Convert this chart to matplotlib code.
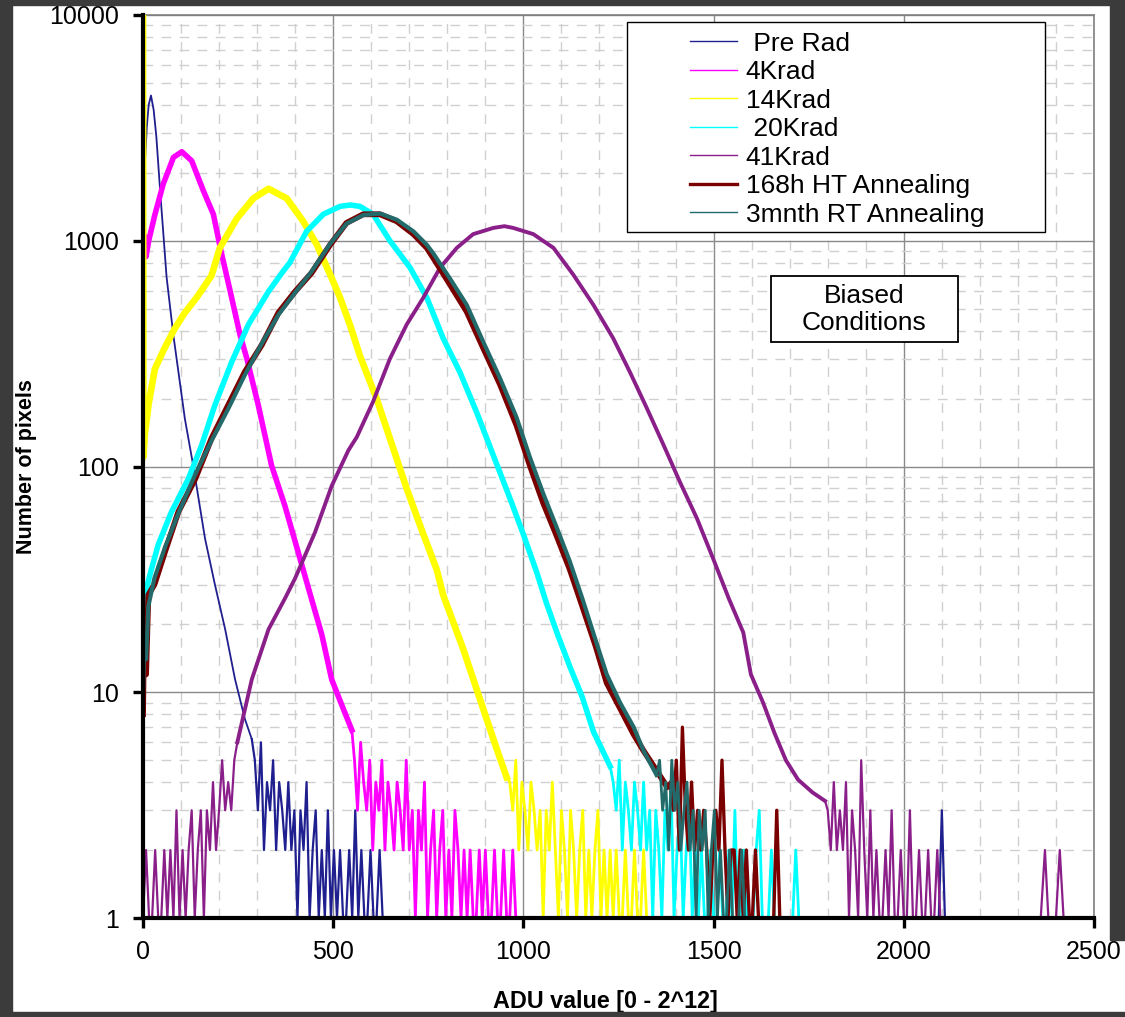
import matplotlib
matplotlib.use("Agg")
import matplotlib.pyplot as plt
from matplotlib.patches import Rectangle
from matplotlib.ticker import FixedLocator, LogLocator, NullFormatter, FixedFormatter

plt.rcParams['font.family'] = ['Liberation Sans', 'DejaVu Sans']

# ---------------- data ----------------
series_labels = [" Pre Rad", "4Krad", "14Krad", " 20Krad", "41Krad",
                 "168h HT Annealing", "3mnth RT Annealing"]
series_colors = ["#1f1f8f", "#ff00ff", "#ffff00", "#00ffff", "#8a1f8a",
                 "#7a0000", "#236b6b"]

x_ticks = [0, 500, 1000, 1500, 2000, 2500]
y_ticks = [1, 10, 100, 1000, 10000]
y_tick_labels = ["1", "10", "100", "1000", "10000"]

# Pre Rad
pre_body_x = [0, 5, 10, 15, 21, 28, 35, 45, 62, 80, 110, 132, 163, 189, 216, 242, 268, 286]
pre_body_y = [1300, 2200, 3200, 4000, 4400, 3800, 2900, 1670, 690, 380, 163, 101, 48, 30, 19, 11.4, 7.6, 6.2]
pre_tail_x = [294, 302, 310, 318, 326, 334, 342, 350, 358, 366, 374, 382, 390, 398, 406, 414, 422, 430,
              438, 446, 454, 462, 470, 478, 486, 494, 502, 510, 518, 526, 534, 542, 550, 558, 566, 574,
              582, 590, 598, 606, 614, 622, 630, 638, 646, 2092, 2100, 2108]
pre_tail_y = [5, 3, 6, 2, 4, 3, 5, 2, 4, 3, 2, 4, 2, 3, 1, 3, 2, 4,
              1, 2, 3, 1, 2, 1, 3, 1, 2, 1, 2, 1, 1, 2, 1, 3, 1, 2,
              1, 1, 2, 1, 1, 2, 1, 1, 1, 1, 3, 1]

# 4Krad
k4_body_x = [0, 4, 8, 15, 31, 53, 80, 102, 128, 159, 185, 205, 229, 255, 273, 303, 338, 373, 408, 443, 470, 496, 520, 549]
k4_body_y = [800, 1050, 850, 1000, 1300, 1780, 2340, 2480, 2260, 1660, 1310, 900, 600, 383, 301, 187, 101, 67, 41.7, 25.9, 18, 11.4, 9, 6.8]
k4_tail_x = [556, 564, 572, 580, 588, 596, 604, 612, 620, 628, 636, 644, 652, 660, 668, 676, 684, 692,
             700, 708, 716, 724, 732, 740, 748, 756, 764, 772, 780, 788, 796, 804, 812, 820, 828, 836,
             844, 852, 860, 868, 876, 884, 892, 900, 908, 916, 924, 932, 940, 948, 956, 964, 972, 980, 988]
k4_tail_y = [5, 3, 6, 4, 3, 5, 2, 4, 3, 5, 2, 4, 3, 2, 4, 3, 2, 5,
             2, 3, 1, 3, 2, 4, 1, 2, 3, 1, 2, 3, 1, 2, 1, 3, 2, 1,
             2, 1, 2, 1, 1, 2, 1, 2, 1, 1, 2, 1, 1, 2, 1, 1, 2, 1, 1]

# 14Krad
k14_body_x = [0, 1, 5, 15, 31, 55, 84, 110, 141, 180, 202, 246, 290, 330, 378, 421, 457, 492, 518, 545,
              570, 614, 658, 693, 728, 772, 789, 842, 886, 930, 956]
k14_body_y = [15000, 110, 140, 190, 270, 330, 410, 480, 560, 700, 930, 1250, 1540, 1700, 1540, 1220, 960, 708, 560, 420,
              310, 200, 120, 80, 55, 35, 27, 15.5, 9.3, 5.6, 4.2]
k14_tail_x = [964, 972, 980, 988, 996, 1004, 1012, 1020, 1028, 1036, 1044, 1052, 1060, 1068, 1076, 1084,
              1092, 1100, 1108, 1116, 1124, 1132, 1140, 1148, 1156, 1164, 1172, 1180, 1188, 1196, 1204,
              1212, 1220, 1228, 1236, 1244, 1252, 1260, 1268, 1276, 1284, 1292, 1300, 1308, 1316, 1324]
k14_tail_y = [4, 3, 5, 2, 4, 3, 2, 4, 3, 2, 3, 1, 3, 2, 4, 2,
              1, 3, 2, 1, 3, 2, 1, 2, 3, 1, 2, 1, 2, 3, 1,
              2, 1, 2, 1, 2, 1, 1, 2, 1, 1, 2, 1, 1, 2, 1]

# 20Krad
k20_body_x = [0, 5, 20, 40, 75, 119, 154, 189, 233, 277, 330, 365, 386, 430, 474, 518, 545, 570, 605, 649,
              702, 746, 789, 833, 877, 921, 965, 1000, 1035, 1060, 1090, 1122, 1155, 1184, 1228]
k20_body_y = [18, 27, 34, 45, 63, 88, 124, 187, 290, 425, 596, 720, 800, 1100, 1310, 1420, 1440, 1420, 1310, 1000,
              760, 560, 370, 262, 174, 112, 72, 50, 34, 25, 18, 13, 9.5, 6.7, 4.7]
k20_tail_x = [1236, 1244, 1252, 1260, 1268, 1276, 1284, 1292, 1300, 1308, 1316, 1324, 1332, 1340, 1348,
              1356, 1364, 1372, 1380, 1388, 1396, 1404, 1412, 1420, 1428, 1436, 1444, 1452, 1460, 1468,
              1476, 1484, 1492, 1500, 1508, 1516, 1524, 1532, 1540, 1548, 1556, 1564, 1572, 1580, 1588,
              1596, 1604, 1612, 1620, 1628, 1636, 1644, 1652, 1660, 1668, 1676, 1684, 1692, 1700, 1708,
              1716, 1724]
k20_tail_y = [4, 3, 5, 2, 4, 3, 2, 4, 3, 2, 4, 2, 3, 1, 3,
              2, 1, 3, 2, 4, 1, 2, 3, 1, 2, 3, 1, 2, 1, 2,
              1, 1, 2, 1, 1, 2, 1, 1, 2, 1, 3, 1, 1, 2, 1,
              1, 1, 2, 3, 1, 1, 1, 2, 1, 1, 1, 1, 1, 1, 1,
              2, 1]

# 41Krad
k41_head_x = [0, 8, 16, 24, 32, 40, 48, 56, 64, 72, 80, 88, 96, 104, 112, 120, 128, 136, 144, 152,
              160, 168, 176, 184, 192, 200, 208, 216, 224, 232, 240]
k41_head_y = [1, 2, 1, 1, 2, 1, 1, 2, 1, 2, 1, 3, 1, 2, 1, 2, 3, 1, 2, 3,
              1, 3, 2, 4, 2, 3, 5, 3, 4, 3, 5]
k41_body_x = [248, 286, 330, 373, 400, 452, 496, 540, 562, 605, 649, 693, 737, 781, 825, 868, 921, 950,
              973, 1026, 1079, 1131, 1184, 1236, 1280, 1324, 1368, 1412, 1456, 1499, 1540, 1578, 1598,
              1630, 1660, 1690, 1722, 1760, 1793]
k41_body_y = [6, 11.4, 19, 26, 32, 51, 82, 118, 135, 194, 300, 425, 560, 760, 930, 1070, 1140, 1160,
              1140, 1070, 930, 708, 520, 370, 262, 182, 125, 85, 59, 39, 26, 18.4, 12,
              9, 6.6, 5, 4.1, 3.6, 3.3]
k41_tail_x = [1800, 1808, 1816, 1824, 1832, 1840, 1848, 1856, 1864, 1872, 1880, 1888, 1896, 1904, 1912,
              1920, 1928, 1936, 1944, 1952, 1960, 1968, 1976, 1984, 1992, 2000, 2008, 2016, 2024, 2032,
              2040, 2048, 2056, 2064, 2072, 2080, 2088, 2096, 2360, 2371, 2380, 2400, 2410, 2420]
k41_tail_y = [3, 2, 4, 2, 3, 2, 4, 1, 3, 2, 1, 5, 2, 1, 3,
              1, 2, 1, 1, 2, 1, 3, 1, 1, 2, 1, 1, 3, 1, 1,
              2, 1, 1, 2, 1, 1, 2, 1, 1, 2, 1, 1, 2, 1]

# 168h HT Annealing
ht_body_x = [0, 3, 8, 14, 30, 58, 93, 137, 180, 224, 268, 312, 356, 400, 443, 492, 535, 579, 623, 667,
             711, 746, 763, 807, 851, 895, 939, 982, 1017, 1052, 1087, 1122, 1155, 1190, 1219, 1254,
             1290, 1316, 1350, 1378]
ht_body_y = [8, 20, 12, 27, 30, 42, 63, 88, 133, 187, 263, 345, 480, 596, 720, 960, 1200, 1310, 1310, 1220,
             1070, 930, 840, 640, 485, 333, 230, 152, 101, 69, 49.5, 35, 24, 16, 11, 8.5,
             6.5, 5.5, 4.5, 3.8]
ht_tail_x = [1386, 1394, 1402, 1410, 1418, 1426, 1434, 1442, 1450, 1458, 1466, 1474, 1482, 1490, 1498,
             1506, 1514, 1522, 1530, 1538, 1546, 1554, 1562, 1570, 1578, 1586, 1594, 1602, 1610, 1618,
             1626, 1634, 1642, 1650, 1658, 1666, 1674]
ht_tail_y = [4, 3, 5, 2, 7, 3, 2, 4, 2, 3, 2, 3, 2, 1, 2,
             3, 2, 5, 2, 1, 2, 2, 1, 2, 1, 2, 1, 1, 2, 1,
             1, 1, 1, 1, 1, 3, 1]

# 3mnth RT Annealing
rt_body_x = [0, 3, 8, 14, 30, 58, 93, 137, 180, 224, 268, 312, 356, 400, 443, 492, 535, 579, 623, 667,
             711, 746, 763, 807, 851, 895, 939, 982, 1017, 1052, 1087, 1122, 1155, 1190, 1219, 1254,
             1290, 1316, 1350]
rt_body_y = [10, 16, 14, 24, 32, 44, 62, 92, 130, 180, 255, 350, 470, 590, 730, 970, 1190, 1300, 1320, 1240,
             1100, 960, 880, 680, 520, 355, 245, 165, 110, 76, 54, 38, 26, 17, 12, 9,
             7, 5.5, 4.3]
rt_tail_x = [1358, 1366, 1374, 1382, 1390, 1398, 1406, 1414, 1422, 1430, 1438, 1446, 1454, 1462, 1470,
             1478, 1486, 1494, 1502, 1510, 1518, 1526, 1534, 1542, 1550, 1558, 1566, 1574, 1582]
rt_tail_y = [5, 3, 4, 2, 5, 3, 4, 2, 3, 4, 2, 3, 1, 3, 2,
             3, 1, 2, 3, 1, 2, 1, 1, 2, 1, 1, 1, 2, 1]

body_x = [pre_body_x, k4_body_x, k14_body_x, k20_body_x, k41_body_x, ht_body_x, rt_body_x]
body_y = [pre_body_y, k4_body_y, k14_body_y, k20_body_y, k41_body_y, ht_body_y, rt_body_y]
tail_x = [pre_tail_x, k4_tail_x, k14_tail_x, k20_tail_x, k41_tail_x, ht_tail_x, rt_tail_x]
tail_y = [pre_tail_y, k4_tail_y, k14_tail_y, k20_tail_y, k41_tail_y, ht_tail_y, rt_tail_y]

body_widths = [1.3, 4.0, 4.8, 4.0, 2.8, 4.2, 3.0]
tail_widths = [1.6, 2.0, 2.0, 2.0, 1.6, 2.4, 2.0]
legend_widths = [1.0, 1.0, 1.0, 1.0, 1.0, 2.4, 1.0]

# ---------------- figure ----------------
W, H = 1125, 1017
fig = plt.figure(figsize=(W / 100, H / 100), dpi=100)
fig.patch.set_facecolor("white")
ax = fig.add_axes([143 / W, 1 - 918 / H, 951 / W, 903 / H])

lines = []
for i in range(len(series_labels)):
    c = series_colors[i]
    if i == 4:  # low-count spikes before the 41Krad rise
        ax.plot(k41_head_x + [body_x[i][0]], k41_head_y + [body_y[i][0]],
                color=c, lw=tail_widths[i], zorder=3)
    ln, = ax.plot(body_x[i], body_y[i], color=c, lw=body_widths[i],
                  label=series_labels[i], zorder=3, solid_joinstyle="round")
    ax.plot([body_x[i][-1]] + tail_x[i], [body_y[i][-1]] + tail_y[i],
            color=c, lw=tail_widths[i], zorder=3)
    lines.append(ln)

ax.set_yscale("log")
ax.set_xlim(0, 2500)
ax.set_ylim(1, 10000)

ax.xaxis.set_major_locator(FixedLocator(x_ticks))
ax.xaxis.set_minor_locator(FixedLocator([v for v in range(100, 2500, 100) if v % 500]))
ax.yaxis.set_major_locator(FixedLocator(y_ticks))
ax.yaxis.set_major_formatter(FixedFormatter(y_tick_labels))
ax.yaxis.set_minor_locator(LogLocator(base=10, subs=range(2, 10)))
ax.yaxis.set_minor_formatter(NullFormatter())

ax.grid(which="major", color="#8a8a8a", lw=1.0, ls="-")
ax.grid(which="minor", color="#d0d0d0", lw=1.0, ls=(0, (7, 6)))
ax.set_axisbelow(True)

ax.tick_params(which="major", direction="out", length=7, width=2.4, color="black",
               labelsize=18, pad=9)
ax.tick_params(which="minor", length=0)
ax.tick_params(axis="y", pad=10)

for side in ["left", "bottom"]:
    ax.spines[side].set_linewidth(3)
    ax.spines[side].set_color("black")
    ax.spines[side].set_zorder(6)
for side in ["top", "right"]:
    ax.spines[side].set_linewidth(1.2)
    ax.spines[side].set_color("#808080")

ax.set_xlabel("ADU value [0 - 2^12]", fontsize=16.8, fontweight="bold")
ax.xaxis.set_label_coords(0.5 - 13 / 951, -72 / 903)
ax.set_ylabel("Number of pixels", fontsize=15.5, fontweight="bold")
ax.yaxis.set_label_coords(-106 / 951, 0.5)

# legend box
ax.add_patch(Rectangle((0.509, 0.760), 0.439, 0.232, transform=ax.transAxes,
                       facecolor="white", edgecolor="black", lw=1.0, zorder=7))
leg = ax.legend(handles=lines, labels=series_labels, frameon=False, loc="upper left",
                bbox_to_anchor=(0.575, 0.9815), borderpad=0, borderaxespad=0,
                handlelength=1.8, handletextpad=0.32, labelspacing=0.17, fontsize=19)
leg.set_zorder(8)
for hl, w in zip(leg.get_lines(), legend_widths):
    hl.set_linewidth(w)

# "Biased Conditions" box
ax.add_patch(Rectangle((0.660, 0.638), 0.1966, 0.0731, transform=ax.transAxes,
                       facecolor="white", edgecolor="black", lw=1.3, zorder=7))
ax.text(0.758, 0.674, "Biased\nConditions", transform=ax.transAxes, ha="center", va="center",
        fontsize=19, linespacing=1.15, zorder=8)

# dark frame around the slide
dark = "#3b3b3b"
fig.add_artist(Rectangle((0, 1 - 5 / H), 1, 5 / H, transform=fig.transFigure, color=dark, zorder=10))
fig.add_artist(Rectangle((0, 0), 12 / W, 1, transform=fig.transFigure, color=dark, zorder=10))
fig.add_artist(Rectangle((0, 0), 1, 5 / H, transform=fig.transFigure, color=dark, zorder=10))
fig.add_artist(Rectangle((1110 / W, 1 - 940 / H), 15 / W, 940 / H, transform=fig.transFigure,
                         color=dark, zorder=10))

fig.savefig("out.png", dpi=100)
